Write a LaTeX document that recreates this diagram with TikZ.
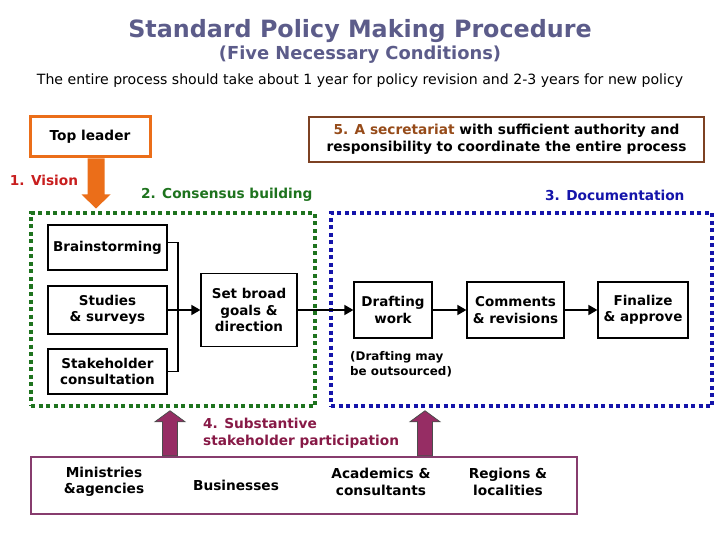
\documentclass[tikz,border=0pt]{standalone}
\usepackage{fontspec}
\setmainfont{DejaVu Sans}
\usepackage{tikz}
\usetikzlibrary{arrows.meta,positioning,calc}
\definecolor{titleblue}{RGB}{92,92,138}
\definecolor{visionred}{RGB}{200,30,30}
\definecolor{consgreen}{RGB}{30,115,30}
\definecolor{docblue}{RGB}{20,20,170}
\definecolor{secbrown}{RGB}{150,75,25}
\definecolor{secframe}{RGB}{125,65,35}
\definecolor{leaderorange}{RGB}{235,110,25}
\definecolor{partpurple}{RGB}{135,25,70}
\definecolor{partframe}{RGB}{135,60,110}
\definecolor{partfill}{RGB}{150,45,100}

\begin{document}
\begin{tikzpicture}[x=1pt, y=-1pt,
    taskbox/.style={draw, line width=1.2pt, inner sep=0pt, align=center,
        font=\bfseries\fontsize{13.5}{16.5}\selectfont},
    flow/.style={line width=1.6pt, -{Triangle[length=9pt,width=10pt]}},
    dotbox/.style={line width=4.5pt, dash pattern=on 4pt off 3.5pt, inner sep=0pt},
    headtext/.style={font=\bfseries\fontsize{13.7}{16.5}\selectfont},
    parttext/.style={align=center, font=\bfseries\fontsize{13.7}{16.5}\selectfont}
]
    \useasboundingbox (0,0) rectangle (720,540);
    % Titres
    \node[titleblue, font=\bfseries\fontsize{23.8}{27}\selectfont] (title) at (360,31) {Standard Policy Making Procedure};
    \node[titleblue, font=\bfseries\fontsize{17.9}{20}\selectfont] (subtitle) at (360,55) {(Five Necessary Conditions)};
    \node[font=\fontsize{14.1}{16}\selectfont] (duration) at (360,81) {The entire process should take about 1 year for policy revision and 2-3 years for new policy};

    % Leader et secretariat
    \node[draw=leaderorange, line width=3pt, minimum width=120pt, minimum height=40pt, headtext] (top) at (90,137) {Top leader};
    \node[draw=secframe, line width=2pt, minimum width=395pt, minimum height=45pt, align=center, headtext] (secretariat) at (506.5,139.5)
        {\textcolor{secbrown}{5. A secretariat} with sufficient authority and\\ responsibility to coordinate the entire process};
    \coordinate (vision tip) at ([xshift=6pt]top.south);
    \fill[leaderorange, shift={(vision tip)}] (-8.5,0) -- (-8.5,36) -- (-14.5,36) -- (0,50) -- (14.5,36) -- (8.5,36) -- (8.5,0) -- cycle;
    \node[visionred, headtext] (vision) at (44,180) {1. Vision};
    \node[consgreen, headtext, anchor=east] (consensus) at (316,195) {2. Consensus building};
    \node[docblue, headtext, anchor=east] (documentation) at (688,195) {3. Documentation};

    % Cadres pointilles
    \node[dotbox, draw=consgreen, minimum width=284pt, minimum height=193pt] (consbox) at (173,309.5) {};
    \node[dotbox, draw=docblue, minimum width=381pt, minimum height=193pt] (docbox) at (521.5,309.5) {};

    % Consensus
    \node[taskbox, minimum width=119pt, minimum height=45pt] (brain) at (107.5,247.5) {Brainstorming};
    \node[taskbox, minimum width=119pt, minimum height=48pt] (studies) at (107.5,310) {Studies\\ \& surveys};
    \node[taskbox, minimum width=119pt, minimum height=45pt] (stake) at (107.5,371.5) {Stakeholder\\ consultation};
    \node[taskbox, minimum width=96pt, minimum height=73pt] (goals) at (249,310) {Set broad\\ goals \&\\ direction};
    \coordinate (join) at (178,310);
    \draw[line width=1.2pt] ([yshift=5pt]brain.east) -| (join |- stake.east) -- (stake.east);
    \draw[flow] (studies.east) -- (goals.west);

    % Documentation
    \node[taskbox, minimum width=78pt, minimum height=56pt] (draft) at (393,310) {Drafting\\ work};
    \node[taskbox, minimum width=97pt, minimum height=56pt] (comments) at (515.5,310) {Comments\\ \& revisions};
    \node[taskbox, minimum width=90pt, minimum height=56pt] (final) at (643,310) {Finalize\\ \& approve};
    \draw[flow] (goals.east) -- (draft.west);
    \draw[flow] (draft.east) -- (comments.west);
    \draw[flow] (comments.east) -- (final.west);
    \node[anchor=north west, align=left, inner sep=0pt, font=\bfseries\fontsize{11.9}{15}\selectfont] (outsourced) at (350,351) {(Drafting may\\ be outsourced)};

    % Parties prenantes
    \node[draw=partframe, line width=2.5pt, minimum width=546pt, minimum height=57pt] (parts) at (304,485.5) {};
    \node[parttext] (ministries) at (104,482) {Ministries\\ \&agencies};
    \node[parttext] (businesses) at (236,485) {Businesses};
    \node[parttext] (academics) at (381,482) {Academics \&\\ consultants};
    \node[parttext] (regions) at (508,482) {Regions \&\\ localities};
    \foreach \dx/\name in {-134/left, 121/right} {
        \coordinate (up \name) at ([xshift=\dx pt]parts.north);
        \filldraw[fill=partfill, draw=black!70, line width=0.8pt, shift={(up \name)}]
            (-7.5,0) -- (-7.5,-34) -- (-15,-34) -- (0,-45) -- (15,-34) -- (7.5,-34) -- (7.5,0) -- cycle;
    }
    \node[partpurple, headtext, anchor=north west, align=left, inner sep=0pt] (participation) at (203,418)
        {4. Substantive\\ stakeholder participation};
\end{tikzpicture}
\end{document}
